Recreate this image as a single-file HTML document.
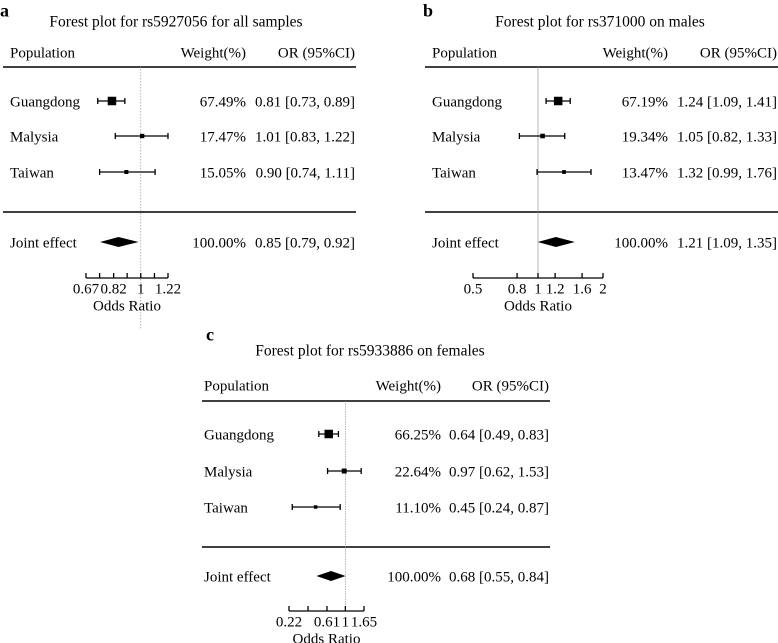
<!DOCTYPE html>
<html><head><meta charset="utf-8">
<style>
html,body{margin:0;padding:0;background:#fff;}
svg{display:block;}
svg text{font-family:"Liberation Serif","Times New Roman",serif;}
</style></head>
<body>
<svg id="chart" width="778" height="643" viewBox="0 0 778 643" xmlns="http://www.w3.org/2000/svg" font-family="Liberation Serif, serif"></svg>
<script>
const populations = ["Guangdong","Malysia","Taiwan"];
const aOR = [0.81,1.01,0.90], aLo = [0.73,0.83,0.74], aHi = [0.89,1.22,1.11];
const aWeight = [67.49,17.47,15.05];
const aJoint = [0.85,0.79,0.92];
const aTicks = [0.67,0.74,0.82,0.905,1,1.105,1.22];
const aTickLabels = ["0.67","","0.82","","1","","1.22"];
const bOR = [1.24,1.05,1.32], bLo = [1.09,0.82,0.99], bHi = [1.41,1.33,1.76];
const bWeight = [67.19,19.34,13.47];
const bJoint = [1.21,1.09,1.35];
const bTicks = [0.5,0.8,1,1.2,1.6,2];
const bTickLabels = ["0.5","0.8","1","1.2","1.6","2"];
const cOR = [0.64,0.97,0.45], cLo = [0.49,0.62,0.24], cHi = [0.83,1.53,0.87];
const cWeight = [66.25,22.64,11.10];
const cJoint = [0.68,0.55,0.84];
const cTicks = [0.22,0.367,0.61,1,1.65];
const cTickLabels = ["0.22","","0.61","1","1.65"];

const svg = document.getElementById('chart');
const NS = "http://www.w3.org/2000/svg";
const FS = 15;
function mk(tag, attrs, parent){
  const e = document.createElementNS(NS, tag);
  for (const k in attrs) e.setAttribute(k, attrs[k]);
  (parent||svg).appendChild(e);
  return e;
}
function txt(s, x, y, anchor, size, parent, weight){
  const t = mk('text', {x:x, y:y + size*0.35, 'text-anchor':anchor, 'font-size':size, fill:'#000', 'font-family':'Liberation Serif, serif'}, parent);
  if (weight) t.setAttribute('font-weight', weight);
  t.textContent = s;
  return t;
}
function fmtOR(v){return v.toFixed(2);}

function panel(cfg){
  const g = mk('g', {});
  
  
  const lnMin = Math.log(cfg.ticks[0]), lnMax = Math.log(cfg.ticks[cfg.ticks.length-1]);
  const sx = v => cfg.ax0 + (Math.log(v) - lnMin) / (lnMax - lnMin) * (cfg.ax1 - cfg.ax0);
  const L = txt(cfg.letter, cfg.letterX, cfg.letterY, 'start', 18, g, 'bold');
  
  
  const T = txt(cfg.title, cfg.titleX, cfg.titleY, 'middle', 15.5, g);
  
  
  const h1 = txt('Population', cfg.popX, cfg.headY, 'start', FS, g);
  
  
  const h2 = txt('Weight(%)', cfg.wX, cfg.headY, 'end', FS, g);
  
  
  const h3 = txt('OR (95%CI)', cfg.orX, cfg.headY, 'end', FS, g);
  
  
  const r1 = mk('line', {x1:cfg.ruleX0, x2:cfg.ruleX1, y1:cfg.rule1, y2:cfg.rule1, stroke:'#000', 'stroke-width':1.5}, g);
  
  
  const r2 = mk('line', {x1:cfg.ruleX0, x2:cfg.ruleX1, y1:cfg.rule2, y2:cfg.rule2, stroke:'#000', 'stroke-width':1.5}, g);
  
  
  const ref = mk('line', {x1:sx(1), x2:sx(1), y1:cfg.refY0, y2:cfg.refY1, stroke:'#888', 'stroke-width':0.6, 'stroke-dasharray':cfg.dash}, g);
  
  
  const maxW = Math.max.apply(null, cfg.weight);
  for (let i = 0; i < populations.length; i++){
    const y = cfg.rowY[i];
    const p = txt(populations[i], cfg.popX, y, 'start', FS, g);
    
    
    const ci = mk('line', {x1:sx(cfg.lo[i]), x2:sx(cfg.hi[i]), y1:y, y2:y, stroke:'#000', 'stroke-width':1.3}, g);
    
    
    [cfg.lo[i], cfg.hi[i]].forEach(v => {
      const c = mk('line', {x1:sx(v), x2:sx(v), y1:y-3, y2:y+3, stroke:'#000', 'stroke-width':1.3}, g);
      
      
    });
    const s = 8.5 * Math.sqrt(cfg.weight[i] / maxW);
    const sq = mk('rect', {x:sx(cfg.or[i]) - s/2, y:y - s/2, width:s, height:s, fill:'#000'}, g);
    
    
    const w = txt(cfg.weight[i].toFixed(2) + '%', cfg.wX, y, 'end', FS, g);
    
    
    const o = txt(fmtOR(cfg.or[i]) + ' [' + fmtOR(cfg.lo[i]) + ', ' + fmtOR(cfg.hi[i]) + ']', cfg.orX, y, 'end', FS, g);
    
    
  }
  const jy = cfg.jointY;
  const jl = txt('Joint effect', cfg.popX, jy, 'start', FS, g);
  
  
  const k = 1.85;
  const cx = sx(cfg.joint[0]);
  const xl = cx - (cx - sx(cfg.joint[1])) * k, xr = cx + (sx(cfg.joint[2]) - cx) * k;
  const d = mk('polygon', {points: xl+','+jy+' '+cx+','+(jy-5)+' '+xr+','+jy+' '+cx+','+(jy+5), fill:'#000'}, g);
  
  
  const jw = txt('100.00%', cfg.wX, jy, 'end', FS, g);
  
  
  const jo = txt(fmtOR(cfg.joint[0]) + ' [' + fmtOR(cfg.joint[1]) + ', ' + fmtOR(cfg.joint[2]) + ']', cfg.orX, jy, 'end', FS, g);
  
  
  const ax = mk('line', {x1:cfg.ax0, x2:cfg.ax1, y1:cfg.axY, y2:cfg.axY, stroke:'#000', 'stroke-width':1.3}, g);
  
  
  cfg.ticks.forEach((v, i) => {
    const tk = mk('line', {x1:sx(v), x2:sx(v), y1:cfg.axY, y2:cfg.axY-5, stroke:'#000', 'stroke-width':1.3}, g);
    
    
    if (cfg.tickLabels[i]){
      const tl = txt(cfg.tickLabels[i], sx(v), cfg.axY + 10, 'middle', 15, g);
      
      
    }
  });
  const xt = txt('Odds Ratio', (cfg.ax0 + cfg.ax1) / 2, cfg.axY + 27, 'middle', 15, g);
  
  
}

panel({letter:'a', letterX:0, letterY:10, title:'Forest plot for rs5927056 for all samples', titleX:176, titleY:21,
  popX:10, wX:246, orX:355, headY:52, rule1:67, rule2:212, ruleX0:3, ruleX1:356, rowY:[101,136,172], jointY:242,
  refY0:66, refY1:330, dash:'1.5,1.5', ax0:86, ax1:168, axY:278,
  or:aOR, lo:aLo, hi:aHi, weight:aWeight, joint:aJoint, ticks:aTicks, tickLabels:aTickLabels});
panel({letter:'b', letterX:423, letterY:10, title:'Forest plot for rs371000 on males', titleX:600, titleY:21,
  popX:432, wX:668, orX:777, headY:52, rule1:67, rule2:212, ruleX0:425, ruleX1:778, rowY:[101,136,172], jointY:242,
  refY0:66, refY1:276, dash:'none', ax0:473, ax1:603, axY:278,
  or:bOR, lo:bLo, hi:bHi, weight:bWeight, joint:bJoint, ticks:bTicks, tickLabels:bTickLabels});
panel({letter:'c', letterX:206, letterY:334, title:'Forest plot for rs5933886 on females', titleX:370, titleY:350,
  popX:204, wX:441, orX:549, headY:385, rule1:401, rule2:547, ruleX0:202, ruleX1:550, rowY:[434,471,507], jointY:576,
  refY0:401, refY1:610, dash:'1.5,1', ax0:289, ax1:364, axY:611,
  or:cOR, lo:cLo, hi:cHi, weight:cWeight, joint:cJoint, ticks:cTicks, tickLabels:cTickLabels});
</script>
</body></html>
